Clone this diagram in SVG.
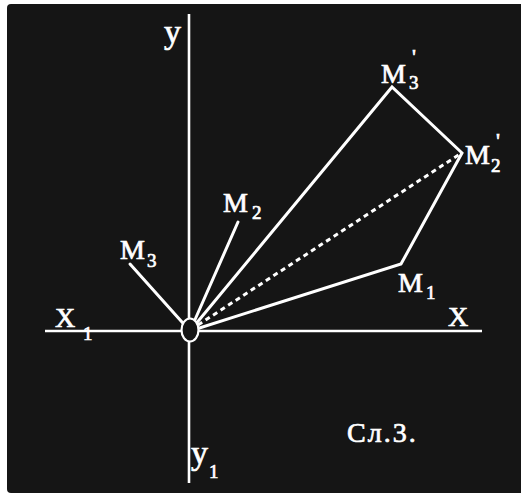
<svg xmlns="http://www.w3.org/2000/svg" width="521" height="495" viewBox="0 0 521 495">
  <style>
    .ln { stroke: #ffffff; stroke-width: 3; fill: none; stroke-linecap: round; stroke-linejoin: miter; }
    .ax { stroke: #ffffff; stroke-width: 2.6; fill: none; }
    .dash { stroke: #ffffff; stroke-width: 3; fill: none; stroke-dasharray: 5 4; }
    .lbl { font-family: "Liberation Serif", "Times New Roman", serif; fill: #ffffff; stroke: #ffffff; stroke-width: 0.7; font-size: 28px; }
    .sub { font-size: 19px; }
    .big { font-size: 34px; }
    .pr { font-size: 22px; }
  </style>
  <rect x="0" y="0" width="521" height="495" fill="#ffffff"/>
  <rect x="7" y="4" width="520" height="489" rx="4" fill="#151515"/>

  <g id="connectors">
    <line class="ax" x1="189" y1="14" x2="189" y2="483"/>
    <line class="ax" x1="45" y1="331" x2="482" y2="331"/>
    <line class="ln" x1="130" y1="264" x2="190" y2="331"/>
    <line class="ln" x1="238" y1="222" x2="190" y2="331"/>
    <polyline class="ln" points="190,331 392,87 462,153 401,264 190,331"/>
    <line class="dash" x1="198" y1="325" x2="460" y2="154"/>
  </g>

  <g id="origin">
    <ellipse cx="190" cy="330" rx="8.5" ry="11.5" fill="#151515" stroke="#ffffff" stroke-width="2.2"/>
  </g>

  <g id="axis-y">
    <text class="lbl big" x="164" y="43">y</text>
  </g>
  <g id="axis-y1">
    <text class="lbl"><tspan class="big" x="191" y="464">y</tspan><tspan class="sub" x="209" y="478">1</tspan></text>
  </g>
  <g id="axis-x1">
    <text class="lbl"><tspan x="55" y="327">X</tspan><tspan class="sub" x="83" y="340">1</tspan></text>
  </g>
  <g id="axis-x">
    <text class="lbl" x="448" y="326" font-size="30">X</text>
  </g>

  <g id="M3">
    <text class="lbl"><tspan x="120" y="259">M</tspan><tspan class="sub" x="147" y="267">3</tspan></text>
  </g>
  <g id="M2">
    <text class="lbl"><tspan x="223" y="212">M</tspan><tspan class="sub" x="252" y="219">2</tspan></text>
  </g>
  <g id="M1">
    <text class="lbl"><tspan x="398" y="292">M</tspan><tspan class="sub" x="426" y="299">1</tspan></text>
  </g>
  <g id="M3p">
    <text class="lbl"><tspan x="381" y="83">M</tspan><tspan class="sub" x="409" y="89">3</tspan><tspan class="pr" x="412" y="64">'</tspan></text>
  </g>
  <g id="M2p">
    <text class="lbl"><tspan x="465" y="164">M</tspan><tspan class="sub" x="491" y="172">2</tspan><tspan class="pr" x="496" y="148">'</tspan></text>
  </g>

  <g id="caption">
    <text class="lbl" x="347" y="442" font-size="30" letter-spacing="2">Сл.3.</text>
  </g>
</svg>
